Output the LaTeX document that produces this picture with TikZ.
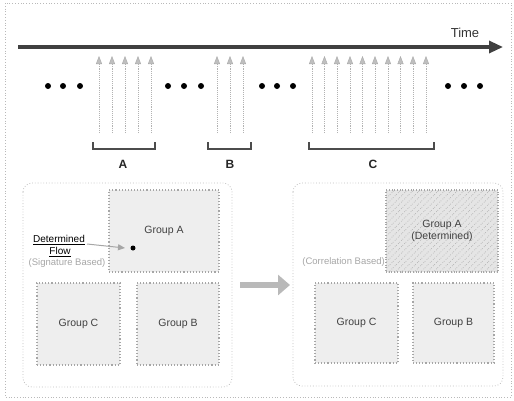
\documentclass[tikz,border=0pt]{standalone}
\usepackage{fontspec}
\setmainfont{Liberation Sans}
\usetikzlibrary{arrows.meta,patterns.meta}
\begin{document}
\begin{tikzpicture}[x=1pt,y=-1pt,
  frame/.style={draw=gray!55, dotted, line width=0.8pt},
  bigbox/.style={draw=gray!50, dotted, line width=0.8pt, rounded corners=9pt},
  grp/.style={draw=gray!70, dotted, line width=1.1pt, fill=gray!13, inner sep=0pt, font=\fontsize{10.5}{12}\selectfont, text=black!75},
  grpdet/.style={grp, preaction={fill=gray!20}, pattern={Lines[angle=45,distance=4.5pt,line width=0.7pt]}, pattern color=gray!60},
  vdot/.style={circle, fill=black, inner sep=0pt, minimum size=6pt},
  event/.style={draw=gray!60, densely dotted, line width=0.9pt, -{Triangle[length=8pt,width=6pt,fill=gray!50,color=gray!65,line width=0.5pt]}},
  brk/.style={draw=black!70, line width=1.6pt},
  lbl/.style={font=\fontsize{12}{14}\selectfont\bfseries, text=black!85},
  note/.style={font=\fontsize{9.5}{11}\selectfont, text=gray!70, inner sep=0pt}]
\useasboundingbox (0,0) rectangle (514,400);
% outer frame
\draw[frame] (5,3) rectangle (511,397);
% time axis
\coordinate (t0) at (18,47);
\coordinate (t1) at (503,47);
\draw[draw=black!75, line width=3.2pt, -{Triangle[length=14pt,width=12pt]}] (t0) -- (t1);
\node[font=\fontsize{13}{15}\selectfont, text=black!80] (time) at (465,33) {Time};
% dots
\foreach \x [count=\i] in {48,63,80,168,184,201,262,277,293,448,464,480}
  \node[vdot] (d\i) at (\x,86) {};
% event arrows
\foreach \x [count=\i] in {99,112,125,138,151,217,230,243,312,324.5,337,350,362.5,375,388,400.5,413,426}{
  \coordinate (eb\i) at (\x,133);
  \coordinate (et\i) at (\x,56);
  \draw[event] (eb\i) -- (et\i);
}
% brackets
\draw[brk] (93,142) -- (93,149) -- (155,149) -- (155,142);
\draw[brk] (208,142) -- (208,149) -- (251,149) -- (251,142);
\draw[brk] (309,142) -- (309,149) -- (434,149) -- (434,142);
\node[lbl] (lA) at (123,164) {A};
\node[lbl] (lB) at (230,164) {B};
\node[lbl] (lC) at (373,164) {C};
% left panel
\draw[bigbox] (23,183) rectangle (232,387);
\node[grp, minimum width=110pt, minimum height=82pt] (gAl) at (164,231) {Group A};
\node[grp, minimum width=83pt, minimum height=82pt] (gCl) at (78.5,324) {Group C};
\node[grp, minimum width=82pt, minimum height=82pt] (gBl) at (178,324) {Group B};
\node[font=\fontsize{10}{11}\selectfont, text=black, inner sep=0pt] (det) at (59,240) {\underline{Determined}};
\node[font=\fontsize{10}{11}\selectfont, text=black, inner sep=0pt] (flow) at (60,252) {\underline{Flow}};
\node[note] (sig) at (67,263) {(Signature Based)};
\node[circle, fill=black, inner sep=0pt, minimum size=5pt] (fdot) at (133,248) {};
\coordinate (fa) at (87,244);
\coordinate (fb) at (125,248);
\draw[draw=gray!70, line width=1pt, -{Triangle[length=7pt,width=6pt]}] (fa) -- (fb);
% transition arrow
\coordinate (m0) at (240,285);
\coordinate (m1) at (290,285);
\draw[draw=gray!55, line width=6pt, -{Triangle[length=12pt,width=20pt]}] (m0) -- (m1);
% right panel
\draw[bigbox] (293,183) rectangle (503,386);
\node[grpdet, minimum width=112pt, minimum height=82pt, align=center] (gAr) at (442,231) {Group A\\(Determined)};
\node[grp, minimum width=83pt, minimum height=80pt] (gCr) at (356.5,323) {Group C};
\node[grp, minimum width=81pt, minimum height=80pt] (gBr) at (453.5,323) {Group B};
\node[note, anchor=east] (cor) at (385,262) {(Correlation Based)};
\end{tikzpicture}
\end{document}
